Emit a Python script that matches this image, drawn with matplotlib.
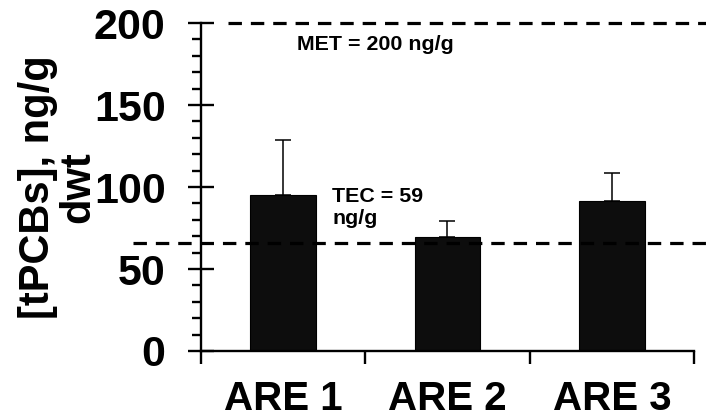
import numpy as np
import matplotlib
matplotlib.use("Agg")
import matplotlib.pyplot as plt

plt.rcParams['font.family'] = ['Liberation Sans', 'DejaVu Sans']
plt.rcParams['font.weight'] = 'bold'

# values
sites = ["ARE 1", "ARE 2", "ARE 3"]
tpcbs = [95.1, 69.3, 91.6]
tpcbs_err = [33.6, 10.0, 17.0]

met_value = 200
tec_value = 66
met_label = "MET = 200 ng/g"
tec_label = "TEC = 59\nng/g"

fig = plt.figure(figsize=(7.06, 4.20), dpi=100)
ax = fig.add_axes([0.2847, 0.1643, 0.6983, 0.7807])

pos = np.arange(len(sites)) + 0.5
ax.bar(pos, tpcbs, width=0.4, color="#0d0d0d", edgecolor="#000000", linewidth=0.8, zorder=2)
ax.errorbar(pos, tpcbs, yerr=[np.zeros(len(tpcbs)), tpcbs_err], fmt="none",
            ecolor="black", elinewidth=1.1, capsize=6, capthick=1.1, zorder=3)

# guideline lines (drawn past the axes like in the original)
yt = ax.get_yaxis_transform()
ax.plot([0.055, 1.03], [met_value, met_value], transform=yt, color="black",
        lw=2.3, ls=(0, (4.2, 2.8)), clip_on=False, zorder=4)
ax.plot([-0.138, 1.03], [tec_value, tec_value], transform=yt, color="black",
        lw=2.3, ls=(0, (4.2, 2.8)), clip_on=False, zorder=4)
ax.text(0.195, 193, met_label, transform=yt, fontsize=15.4, fontweight="bold",
        va="top", ha="left")
ax.text(0.266, 100, tec_label, transform=yt, fontsize=15.4, fontweight="bold",
        va="top", ha="left", linespacing=1.2)

ax.set_xlim(0, len(sites))
ax.set_ylim(0, 200)

for s in ["top", "right"]:
    ax.spines[s].set_visible(False)
for s in ["left", "bottom"]:
    ax.spines[s].set_linewidth(1.7)

ax.set_yticks(np.arange(0, 201, 50))
ax.set_yticks(np.arange(0, 201, 10), minor=True)
ax.tick_params(axis="y", which="major", direction="inout", length=19, width=1.7,
               labelsize=31, pad=16)
ax.tick_params(axis="y", which="minor", direction="out", length=6.5, width=1.7)

ax.set_xticks(np.arange(len(sites) + 1))
ax.set_xticks(pos, minor=True)
ax.set_xticklabels([])
ax.set_xticklabels(sites, minor=True)
ax.tick_params(axis="x", which="major", direction="out", length=9.4, width=1.7)
ax.tick_params(axis="x", which="minor", length=0, labelsize=29, pad=21)

ax.set_ylabel("[tPCBs], ng/g\ndwt", fontsize=30, fontweight="bold", va="center",
              linespacing=1.0)
ax.yaxis.set_label_coords(-0.29, 0.5)

fig.savefig("out.png", dpi=100)
